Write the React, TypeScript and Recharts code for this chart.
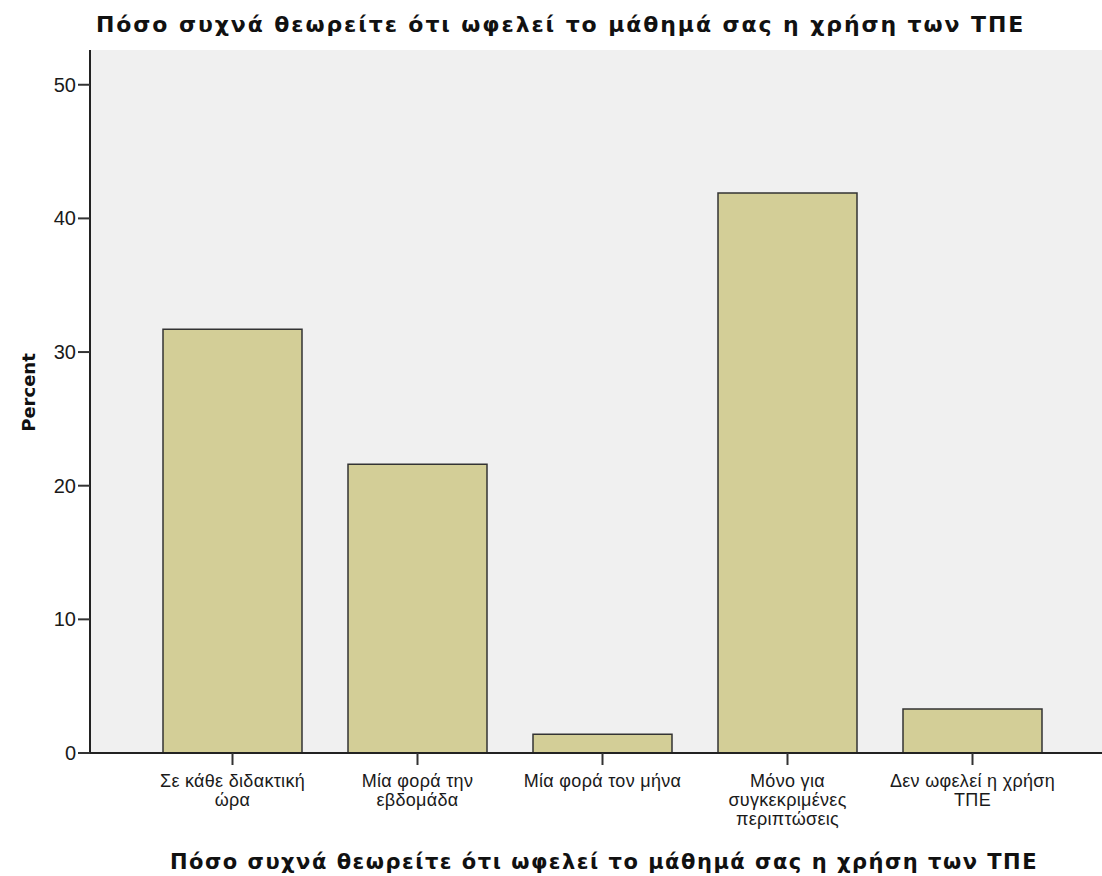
import React from 'react';
import { BarChart, Bar, XAxis, YAxis, CartesianGrid, Label } from 'recharts';

// Frequency categories (x axis)
const categories = [
  'Σε κάθε διδακτική ώρα',
  'Μία φορά την εβδομάδα',
  'Μία φορά τον μήνα',
  'Μόνο για συγκεκριμένες περιπτώσεις',
  'Δεν ωφελεί η χρήση ΤΠΕ',
];

// How the tick labels are broken into lines
const tickLines = [
  ['Σε κάθε διδακτική', 'ώρα'],
  ['Μία φορά την', 'εβδομάδα'],
  ['Μία φορά τον μήνα'],
  ['Μόνο για', 'συγκεκριμένες', 'περιπτώσεις'],
  ['Δεν ωφελεί η χρήση', 'ΤΠΕ'],
];

// Percent of answers per category
const percents = [31.7, 21.6, 1.4, 41.9, 3.3];

const yTicks = [0, 10, 20, 30, 40, 50];

const chartTitle = 'Πόσο συχνά θεωρείτε ότι ωφελεί το μάθημά σας η χρήση των ΤΠΕ';

const data = categories.map((name, i) => ({ name, percent: percents[i] }));

const FONT = '"Liberation Sans", Arial, sans-serif';
const BOLD_FONT = '"DejaVu Sans", Verdana, sans-serif';

const CategoryTick = (props: any) => {
  const { x, y, payload } = props;
  const lines = tickLines[categories.indexOf(payload.value)] || [payload.value];
  return (
    <text x={x} y={y} textAnchor="middle" fontFamily={FONT} fontSize={18} letterSpacing={0.3} fill="#1a1a1a">
      {lines.map((line, i) => (
        <tspan key={i} x={x} dy={i === 0 ? 20 : 19}>
          {line}
        </tspan>
      ))}
    </text>
  );
};

const App: React.FC = () => {
  return (
    <div style={{ position: 'absolute', left: 0, top: 0, width: 1102, height: 876, background: '#fff' }}>
      <div
        style={{
          position: 'absolute',
          left: 96,
          top: 12,
          fontFamily: BOLD_FONT,
          fontWeight: 'bold',
          fontSize: 22,
          letterSpacing: 1.9,
          color: '#111',
          whiteSpace: 'nowrap',
        }}
      >
        {chartTitle}
      </div>
      <BarChart
        width={1102}
        height={876}
        data={data}
        margin={{ top: 50, right: 0, bottom: 0, left: 0 }}
        barSize={139}
      >
        <CartesianGrid fill="#f0f0f0" horizontal={false} vertical={false} />
        <XAxis
          dataKey="name"
          height={123}
          padding={{ left: 50, right: 37 }}
          tickLine={{ stroke: '#333', strokeWidth: 2 }}
          axisLine={{ stroke: '#222', strokeWidth: 2 }}
          tickSize={12}
          tickMargin={2}
          interval={0}
          tick={<CategoryTick />}
        >
          <Label
            content={(p: any) => {
              const vb = p.viewBox;
              return (
                <text
                  x={vb.x + vb.width / 2 + 8}
                  y={vb.y + vb.height - 7}
                  textAnchor="middle"
                  fontFamily={BOLD_FONT}
                  fontWeight="bold"
                  fontSize={21}
                  letterSpacing={1.5}
                  fill="#111"
                >
                  {chartTitle}
                </text>
              );
            }}
          />
        </XAxis>
        <XAxis xAxisId="top" orientation="top" dataKey="name" height={0} tick={false} tickLine={false} axisLine={{ stroke: '#555', strokeWidth: 2 }} />
        <YAxis
          type="number"
          width={90}
          domain={[0, 52.6]}
          ticks={yTicks}
          allowDataOverflow
          tickLine={{ stroke: '#333', strokeWidth: 2 }}
          axisLine={{ stroke: '#222', strokeWidth: 2 }}
          tickSize={12}
          tickMargin={2}
          tick={{ fontFamily: FONT, fontSize: 20, fill: '#1a1a1a' }}
        >
          <Label
            content={(p: any) => {
              const vb = p.viewBox;
              const cx = 28;
              const cy = vb.y + vb.height / 2 - 9;
              return (
                <text
                  x={cx}
                  y={cy}
                  transform={`rotate(-90 ${cx} ${cy})`}
                  textAnchor="middle"
                  dominantBaseline="central"
                  fontFamily={BOLD_FONT}
                  fontWeight="bold"
                  fontSize={18}
                  fill="#111"
                >
                  Percent
                </text>
              );
            }}
          />
        </YAxis>
        <Bar dataKey="percent" fill="#d3ce97" stroke="#333" strokeWidth={1.5} isAnimationActive={false} />
      </BarChart>
    </div>
  );
};

export default App;
